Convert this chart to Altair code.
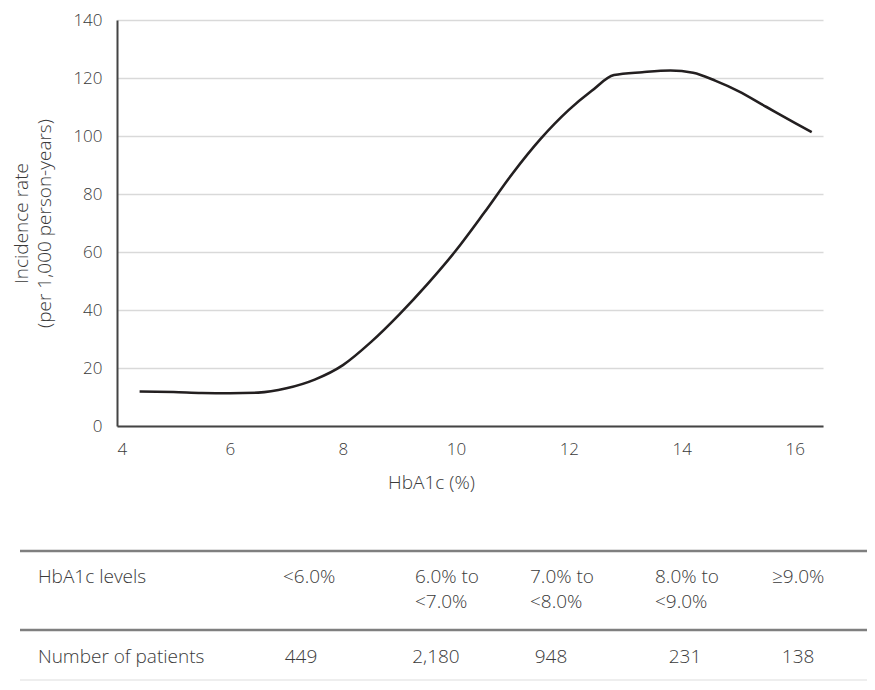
import altair as alt
import pandas as pd

# ---- data ----
hba1c = [4.4, 5.0, 5.5, 6.0, 6.5, 7.0, 7.5, 8.0, 8.5, 9.0, 9.5, 10.0, 10.5,
         11.0, 11.5, 12.0, 12.4, 12.8, 13.3, 13.8, 14.2, 14.6, 15.0, 15.5, 16.0, 16.3]
rate = [11.9, 11.7, 11.4, 11.3, 11.5, 13.0, 16.0, 21.0, 29.0, 38.5, 49.0, 60.5, 73.5,
        87.0, 99.0, 109.0, 115.5, 121.0, 122.0, 122.6, 121.8, 119.0, 115.5, 110.0, 104.5, 101.3]
x_ticks = [4, 6, 8, 10, 12, 14, 16]
y_ticks = [0, 20, 40, 60, 80, 100, 120, 140]

row_labels = ["HbA1c levels", "Number of patients"]
levels = ["<6.0%", "6.0% to\n<7.0%", "7.0% to\n<8.0%", "8.0% to\n<9.0%", "≥9.0%"]
patients = ["449", "2,180", "948", "231", "138"]

# ---- table layout (fractions of table width / height) ----
label_left = 0.021
col_left = [0.3076, 0.462, 0.5965, 0.7427, 0.8795]
col_center = [0.3287, 0.4865, 0.621, 0.7778, 0.91]
row_header, row_numbers = 0.248, 0.868
rule_rows = [0.0, 0.612, 1.0]
rule_colors = ["#7f7f7f", "#7f7f7f", "#e8e8e8"]
rule_widths = [2.5, 2.5, 1.5]

FONT = "Open Sans"
TXT = "#3a3a3a"
TFS = 19

curve = pd.DataFrame({"hba1c": hba1c, "rate": rate})

line = alt.Chart(curve).mark_line(
    color="#231f20", strokeWidth=2.6, interpolate="monotone"
).encode(
    x=alt.X("hba1c:Q",
            scale=alt.Scale(domain=[4, 16.5], nice=False, zero=False),
            axis=alt.Axis(values=x_ticks, title="HbA1c (%)", grid=False, ticks=False,
                          domainColor="#444444", domainWidth=2, labelPadding=15,
                          titleX=314, titleY=56, titleBaseline="middle", titleAnchor="middle")),
    y=alt.Y("rate:Q",
            scale=alt.Scale(domain=[0, 140], nice=False),
            axis=alt.Axis(values=y_ticks, title=["Incidence rate", "(per 1,000 person-years)"],
                          grid=True, gridColor="#d9d9d9", gridWidth=1.5, ticks=False,
                          domainColor="#444444", domainWidth=2, labelPadding=15,
                          titlePadding=18, titleLineHeight=23)),
)

tx = alt.Scale(domain=[0, 1], range=[-97, 758])
ty = alt.Scale(domain=[0, 1], range=[531, 660])

rules_df = pd.DataFrame({"x": [0.0] * 3, "x2": [1.0] * 3, "y": rule_rows,
                         "c": rule_colors, "w": rule_widths})
rules = alt.Chart(rules_df).mark_rule().encode(
    x=alt.X("x:Q", scale=tx, axis=None), x2="x2:Q",
    y=alt.Y("y:Q", scale=ty, axis=None),
    color=alt.Color("c:N", scale=None),
    strokeWidth=alt.StrokeWidth("w:Q", scale=None),
)

labels_df = pd.DataFrame({"t": row_labels, "x": [label_left] * 2, "y": [row_header, row_numbers]})
labels = alt.Chart(labels_df).mark_text(
    align="left", baseline="alphabetic", font=FONT, fontSize=TFS, fontWeight=300, color=TXT
).encode(x=alt.X("x:Q", scale=tx, axis=None), y=alt.Y("y:Q", scale=ty, axis=None), text="t:N")

head_df = pd.DataFrame({"t": levels, "x": col_left, "y": [row_header] * 5})
heads = alt.Chart(head_df).mark_text(
    align="left", baseline="alphabetic", font=FONT, fontSize=TFS, fontWeight=300, color=TXT,
    lineBreak="\n", lineHeight=25
).encode(x=alt.X("x:Q", scale=tx, axis=None), y=alt.Y("y:Q", scale=ty, axis=None), text="t:N")

num_df = pd.DataFrame({"t": patients, "x": col_center, "y": [row_numbers] * 5})
nums = alt.Chart(num_df).mark_text(
    align="center", baseline="alphabetic", font=FONT, fontSize=TFS, fontWeight=300, color=TXT
).encode(x=alt.X("x:Q", scale=tx, axis=None), y=alt.Y("y:Q", scale=ty, axis=None), text="t:N")

chart = alt.layer(line, rules, labels, heads, nums).resolve_scale(
    x="independent", y="independent"
).properties(
    width=706, height=406,
    autosize=alt.AutoSizeParams(type="none"),
    padding={"left": 109, "top": 12, "right": 44, "bottom": 256},
).configure_view(stroke=None).configure_axis(
    labelFont=FONT, labelFontSize=17, labelColor=TXT, labelFontWeight=300,
    titleFont=FONT, titleFontSize=TFS, titleColor=TXT, titleFontWeight=300,
)

chart.save("out.html", embed_options={"renderer": "svg", "actions": False})
